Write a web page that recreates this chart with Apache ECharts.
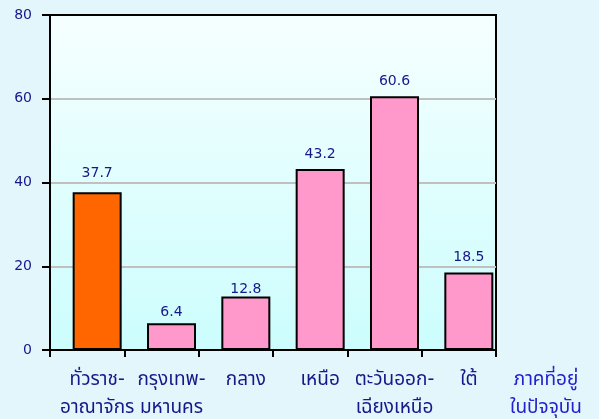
<!DOCTYPE html>
<html>
<head>
<meta charset="utf-8">
<script src="https://cdn.jsdelivr.net/npm/echarts@6/dist/echarts.min.js"></script>
<style>
html,body{margin:0;padding:0;background:#e2f6fc;}
#main{width:599px;height:419px;}
</style>
</head>
<body>
<div id="main"></div>
<script>
// ภาคที่อยู่ในปัจจุบัน
var categories = ['ทั่วราช-\nอาณาจักร', 'กรุงเทพ-\nมหานคร', 'กลาง', 'เหนือ', 'ตะวันออก-\nเฉียงเหนือ', 'ใต้'];
var values = [37.7, 6.4, 12.8, 43.2, 60.6, 18.5];
var barColors = ['#ff6600', '#ff99cc', '#ff99cc', '#ff99cc', '#ff99cc', '#ff99cc'];
var yTicks = [0, 20, 40, 60, 80];
//数值标签离柱顶的距离（原图不太统一）
var labelGaps = [12, 4, 0, 8, 8, 8];

var font = "Tahoma, 'DejaVu Sans', 'Noto Sans Thai', 'Noto Sans', sans-serif";
var navy = '#17178a';

var chart = echarts.init(document.getElementById('main'));
var seriesData = [];
for (var i = 0; i < values.length; i++) {
	seriesData.push({
		value: values[i],
		itemStyle: {color: barColors[i]},
		label: {distance: labelGaps[i]}
	});
}

var option = {
	backgroundColor: '#e2f6fc',
	textStyle: {fontFamily: font},
	grid: [
		{
			left: 50, right: 103, top: 15, bottom: 69,
			outerBoundsMode: 'none',
			show: true,
			borderColor: '#000',
			borderWidth: 2,
			backgroundColor: new echarts.graphic.LinearGradient(0, 0, 0, 1, [
				{offset: 0, color: '#f6ffff'},
				{offset: 1, color: '#ccfdfd'}
			])
		},
		//柱子往右偏一点
		{left: 60, right: 93, top: 15, bottom: 69, outerBoundsMode: 'none'}
	],
	xAxis: [
		{
			type: 'category',
			gridIndex: 0,
			data: categories,
			axisLine: {show: true, lineStyle: {color: '#000', width: 2}},
			axisTick: {show: true, length: 7, lineStyle: {color: '#000', width: 2}},
			axisLabel: {show: false},
			name: 'ภาคที่อยู่\nในปัจจุบัน',
			nameLocation: 'end',
			nameGap: 50,
			nameTextStyle: {
				color: '#2222cc',
				fontSize: 19,
				fontFamily: font,
				align: 'center',
				verticalAlign: 'top',
				lineHeight: 28,
				padding: [16, 0, 0, 0]
			}
		},
		{
			type: 'category',
			gridIndex: 1,
			data: categories,
			axisLine: {show: false},
			axisTick: {show: false},
			axisLabel: {
				color: navy,
				fontSize: 19,
				fontFamily: font,
				lineHeight: 28,
				margin: 16,
				interval: 0
			}
		}
	],
	yAxis: [
		{
			type: 'value',
			gridIndex: 0,
			min: 0,
			max: 80,
			interval: 20,
			axisLine: {show: true, lineStyle: {color: '#000', width: 2}},
			axisTick: {show: true, length: 8, lineStyle: {color: '#000', width: 2}},
			axisLabel: {
				color: navy,
				fontSize: 14,
				fontFamily: 'DejaVu Sans',
				margin: 18,
				formatter: function (v) {
					return yTicks.indexOf(v) >= 0 ? v : '';
				}
			},
			splitLine: {
				show: true,
				showMinLine: false,
				showMaxLine: false,
				lineStyle: {color: '#c0c0c0', width: 2}
			}
		},
		{
			type: 'value',
			gridIndex: 1,
			min: 0,
			max: 80,
			show: false,
			splitLine: {show: false}
		}
	],
	series: [
		{
			type: 'bar',
			xAxisIndex: 1,
			yAxisIndex: 1,
			barWidth: 49,
			itemStyle: {borderColor: '#000', borderWidth: 2},
			label: {
				show: true,
				position: 'top',
				color: navy,
				fontSize: 14,
				fontFamily: 'DejaVu Sans'
			},
			data: seriesData
		}
	]
};
chart.setOption(option);
</script>
</body>
</html>
